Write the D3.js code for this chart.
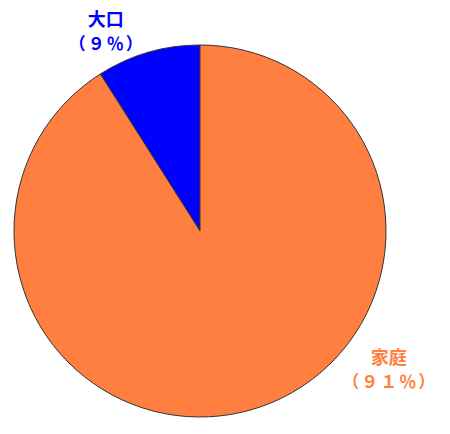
<!DOCTYPE html>
<html>
<head>
<meta charset="utf-8">
<style>
  body { margin: 0; background: #fff; }
  text { font-family: "Noto Sans CJK JP", sans-serif; font-weight: bold; }
</style>
</head>
<body>
<div id="pie"></div>
<script src="https://d3js.org/d3.v7.min.js"></script>
<script>
var categories = ["大口", "家庭"];
var values = [9, 91];
var percentLabels = ["（９％）", "（９１％）"];
var colors = ["#0000FF", "#FF7F40"];

var width = 450, height = 434;
var cx = 200, cy = 231, radius = 186;

var data = categories.map(function(c, i) {
  return { label: c, value: values[i], pct: percentLabels[i], color: colors[i] };
});

var total = d3.sum(values);
var start = -2 * Math.PI * values[0] / total;

var pie = d3.pie().sort(null)
  .startAngle(start).endAngle(start + 2 * Math.PI)
  .value(function(d) { return d.value; })(data);

var arc = d3.arc().innerRadius(0).outerRadius(radius);

var svg = d3.select("#pie").append("svg")
  .attr("width", width).attr("height", height);

var g = svg.append("g").attr("transform", "translate(" + cx + "," + cy + ")");

g.selectAll("path").data(pie).enter().append("path")
  .attr("d", arc)
  .attr("fill", function(d) { return d.data.color; })
  .attr("stroke", "#333")
  .attr("stroke-width", 1);

// label placement: angle shift from slice middle and radius (layout only)
var labelShift = [-0.16, -0.65];
var labelRadius = [220, 235];
var lineGap = [23, 23];

var lbl = g.selectAll("g.lbl").data(pie).enter().append("g")
  .attr("class", "lbl")
  .attr("transform", function(d, i) {
    var a = (d.startAngle + d.endAngle) / 2 + labelShift[i];
    var r = labelRadius[i];
    return "translate(" + (Math.sin(a) * r) + "," + (-Math.cos(a) * r) + ")";
  })
  .attr("fill", function(d) { return d.data.color; });

lbl.append("text")
  .attr("text-anchor", "middle")
  .attr("y", function(d, i) { return -lineGap[i] / 2 + 5; })
  .style("font-size", "18px")
  .text(function(d) { return d.data.label; });

lbl.append("text")
  .attr("text-anchor", "middle")
  .attr("x", 1)
  .attr("y", function(d, i) { return lineGap[i] / 2 + 6; })
  .style("font-size", "17px")
  .style("letter-spacing", "2px")
  .text(function(d) { return d.data.pct; });
</script>
</body>
</html>
